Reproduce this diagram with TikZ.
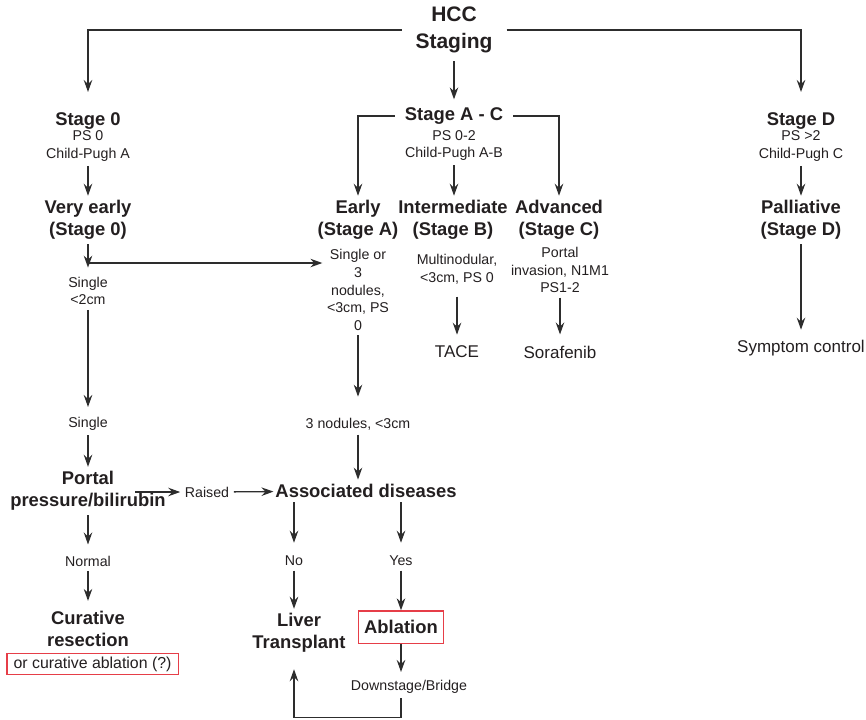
\documentclass[tikz,border=0pt]{standalone}
\usepackage{fontspec}
\setmainfont{Liberation Sans}
\usetikzlibrary{arrows.meta}

\definecolor{inkgray}{RGB}{35,31,32}
\definecolor{linegray}{RGB}{45,45,45}
\definecolor{boxred}{RGB}{230,62,72}

\newcommand{\titlefont}{\fontsize{15.75pt}{20.25pt}\selectfont\bfseries}
\newcommand{\headfont}{\fontsize{13.8pt}{16.5pt}\selectfont\bfseries}
\newcommand{\notefont}{\fontsize{10.65pt}{13.3pt}\selectfont}
\newcommand{\outcomefont}{\fontsize{12.75pt}{15.3pt}\selectfont}

\begin{document}
\begin{tikzpicture}[x=0.75pt,y=-0.75pt,->,>={Stealth[length=9pt,width=6.4pt,inset=3pt]},line width=1pt,color=linegray,
  every node/.style={text=inkgray,align=center,inner sep=3pt},
  title node/.style={font=\titlefont,inner xsep=10pt},
  head node/.style={font=\headfont},
  note node/.style={font=\notefont},
  outcome node/.style={font=\outcomefont},
  red box/.style={draw=boxred,line width=0.9pt},
  endgap/.style={shorten >=#1}]
		\useasboundingbox (0,0) rectangle (866,719);

		\node[title node] (hcc) at (454,30) {HCC\\Staging};
		\node[head node] (stage0) at (88,121) {Stage 0};
		\node[note node] (stage0info) at (88,146) {PS 0\\Child-Pugh A};
		\node[head node,inner xsep=7pt] (stageAC) at (454,116) {Stage A - C};
		\node[note node] (stageACinfo) at (454,145.5) {PS 0-2\\Child-Pugh A-B};
		\node[head node] (stageD) at (801,121) {Stage D};
		\node[note node] (stageDinfo) at (801,146) {PS >2\\Child-Pugh C};

		\node[head node] (veryearly) at (88,220) {Very early\\(Stage 0)};
		\node[head node] (early) at (358,220) {Early\\(Stage A)};
		\node[head node] (intermediate) at (453,220) {Intermediate\\(Stage B)};
		\node[head node] (advanced) at (559,220) {Advanced\\(Stage C)};
		\node[head node] (palliative) at (801,220) {Palliative\\(Stage D)};

		\node[note node] (single2cm) at (88,291) {Single\\<2cm};
		\node[note node] (earlyinfo) at (358,290) {Single or\\3\\nodules,\\<3cm, PS\\0};
		\node[note node] (intinfo) at (457,269) {Multinodular,\\<3cm, PS 0};
		\node[note node] (advinfo) at (560,270) {Portal\\invasion, N1M1\\PS1-2};
		\node[outcome node] (tace) at (457,352) {TACE};
		\node[outcome node] (sorafenib) at (560,352) {Sorafenib};
		\node[outcome node] (symptom) at (801,348) {Symptom control};

		\node[note node] (single) at (88,424) {Single};
		\node[note node] (nodules3) at (358,424) {3 nodules, <3cm};
		\node[head node] (portal) at (88,491) {Portal\\pressure/bilirubin};
		\node[note node] (raised) at (207,492) {Raised};
		\node[head node,inner xsep=1pt] (assoc) at (366,491) {Associated diseases};
		\node[note node] (normal) at (88,561) {Normal};
		\node[note node] (no) at (294,561) {No};
		\node[note node] (yes) at (401,561) {Yes};
		\node[head node] (curative) at (88,629) {Curative\\resection};
		\node[red box,font=\fontsize{11.9pt}{14pt}\selectfont,inner xsep=5pt,inner ysep=2.6pt] (curbox) at (92.5,664) {or curative ablation (?)};
		\node[head node] (liver) at (299,633) {Liver\\Transplant};
		\node[head node,red box,inner xsep=4pt,inner ysep=7pt] (ablation) at (401,627) {Ablation};
		\node[note node] (downstage) at (409,687) {Downstage/Bridge};

		\coordinate (split) at (88,263);
		\coordinate (portalout) at (135,492);

		% branches from the top
		\draw[endgap=12pt] (hcc.west) -| (stage0);
		\draw[endgap=12pt] (hcc.east) -| (stageD);
		\draw (stageAC.west) -| (early);
		\draw (stageAC.east) -| (advanced);
		\draw (split) -- (split -| earlyinfo.west);
		\draw[endgap=9pt] (downstage.south -| ablation.south) -- ++(0,19) -| (no |- liver.south);

		\path
		    (hcc) edge[shorten <=2.7pt,endgap=2.7pt] (stageAC)
		    (stage0info) edge (veryearly)
		    (stageACinfo) edge (stageACinfo |- intermediate.north)
		    (stageDinfo) edge (palliative)
		    (veryearly) edge[endgap=3.5pt] (single2cm)
		    (single2cm) edge[endgap=4.3pt] (single)
		    (earlyinfo) edge[endgap=12.5pt] (nodules3)
		    (intinfo) edge[shorten <=6pt,endgap=5pt] (tace)
		    (advinfo) edge[endgap=5pt] (sorafenib)
		    (palliative) edge[endgap=4.3pt] (symptom)
		    (single) edge (portal)
		    (nodules3) edge (nodules3 |- assoc.north)
		    (portalout) edge (raised)
		    (raised) edge (assoc)
		    (assoc.south -| no) edge[endgap=6.5pt] (no)
		    (assoc.south -| yes) edge[endgap=6.5pt] (yes)
		    (no) edge (no |- liver.north)
		    (yes) edge (ablation)
		    (ablation) edge[endgap=2.8pt] (ablation |- downstage.north)
		    (portal) edge[endgap=5pt] (normal)
		    (normal) edge[endgap=4.3pt] (curative);
\end{tikzpicture}
\end{document}
